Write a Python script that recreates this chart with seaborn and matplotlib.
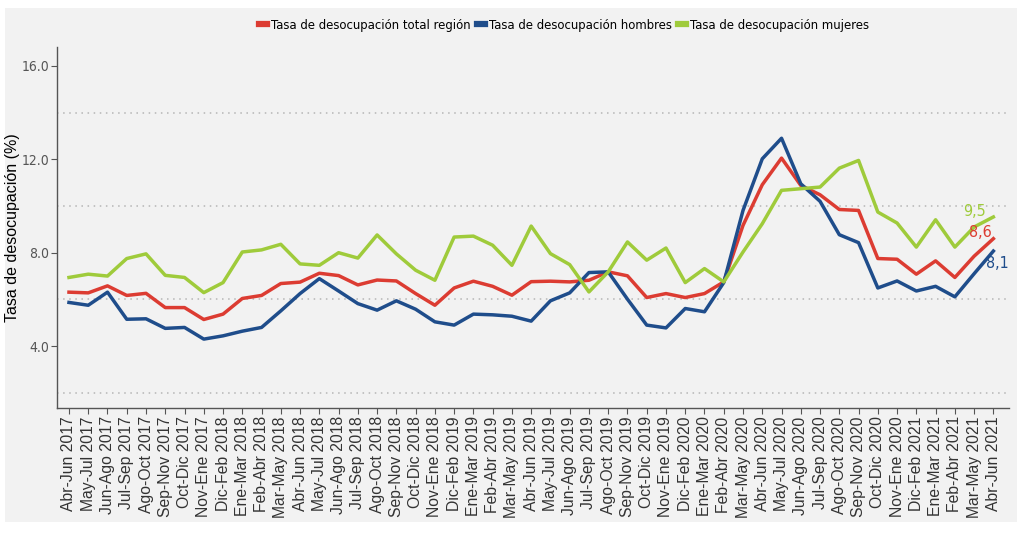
import numpy as np
import pandas as pd
import seaborn as sns
import matplotlib.pyplot as plt
from matplotlib.patches import Rectangle
from matplotlib.lines import Line2D
from matplotlib import font_manager

periodos = [
    'Abr-Jun 2017', 'May-Jul 2017', 'Jun-Ago 2017', 'Jul-Sep 2017', 'Ago-Oct 2017',
    'Sep-Nov 2017', 'Oct-Dic 2017', 'Nov-Ene 2017', 'Dic-Feb 2018', 'Ene-Mar 2018',
    'Feb-Abr 2018', 'Mar-May 2018', 'Abr-Jun 2018', 'May-Jul 2018', 'Jun-Ago 2018',
    'Jul-Sep 2018', 'Ago-Oct 2018', 'Sep-Nov 2018', 'Oct-Dic 2018', 'Nov-Ene 2018',
    'Dic-Feb 2019', 'Ene-Mar 2019', 'Feb-Abr 2019', 'Mar-May 2019', 'Abr-Jun 2019',
    'May-Jul 2019', 'Jun-Ago 2019', 'Jul-Sep 2019', 'Ago-Oct 2019', 'Sep-Nov 2019',
    'Oct-Dic 2019', 'Nov-Ene 2019', 'Dic-Feb 2020', 'Ene-Mar 2020', 'Feb-Abr 2020',
    'Mar-May 2020', 'Abr-Jun 2020', 'May-Jul 2020', 'Jun-Ago 2020', 'Jul-Sep 2020',
    'Ago-Oct 2020', 'Sep-Nov 2020', 'Oct-Dic 2020', 'Nov-Ene 2020', 'Dic-Feb 2021',
    'Ene-Mar 2021', 'Feb-Abr 2021', 'Mar-May 2021', 'Abr-Jun 2021',
]

total = [6.31, 6.28, 6.58, 6.17, 6.26, 5.65, 5.65, 5.14, 5.37, 6.04,
         6.17, 6.68, 6.74, 7.12, 7.02, 6.62, 6.83, 6.79, 6.25, 5.75,
         6.49, 6.78, 6.56, 6.18, 6.76, 6.78, 6.75, 6.82, 7.18, 7.01,
         6.08, 6.25, 6.08, 6.25, 6.75, 9.17, 10.91, 12.05, 10.88, 10.48,
         9.85, 9.81, 7.75, 7.72, 7.08, 7.65, 6.94, 7.85, 8.60]

hombres = [5.87, 5.75, 6.31, 5.15, 5.17, 4.76, 4.80, 4.30, 4.44, 4.64,
           4.80, 5.51, 6.25, 6.89, 6.36, 5.82, 5.54, 5.94, 5.58, 5.04,
           4.90, 5.37, 5.34, 5.28, 5.07, 5.94, 6.28, 7.15, 7.18, 6.01,
           4.90, 4.78, 5.61, 5.47, 6.72, 9.81, 12.02, 12.90, 10.95, 10.20,
           8.77, 8.43, 6.49, 6.79, 6.36, 6.56, 6.11, 7.10, 8.07]

mujeres = [6.94, 7.08, 7.00, 7.75, 7.95, 7.03, 6.94, 6.29, 6.72, 8.03,
           8.12, 8.36, 7.52, 7.46, 8.00, 7.77, 8.76, 7.95, 7.25, 6.82,
           8.67, 8.71, 8.32, 7.46, 9.14, 7.96, 7.49, 6.32, 7.18, 8.46,
           7.68, 8.20, 6.72, 7.32, 6.75, 8.03, 9.24, 10.67, 10.74, 10.81,
           11.62, 11.95, 9.74, 9.27, 8.24, 9.41, 8.24, 9.10, 9.53]

series = ['Tasa de desocupación total región',
          'Tasa de desocupación hombres',
          'Tasa de desocupación mujeres']
colores = ['#dc3c32', '#1f4d8b', '#9fcb3b']
etiquetas_finales = ['8,6', '8,1', '9,5']

fondo = '#f2f2f2'

df = pd.DataFrame({'x': list(range(len(periodos))) * 3,
                   'valor': total + hombres + mujeres,
                   'serie': np.repeat(series, len(periodos))})

plt.rcParams['font.family'] = ['Liberation Sans', 'DejaVu Sans']

# fuente angosta si existe (leyenda y eje y)
angosta = None
for f in font_manager.fontManager.ttflist:
    if 'Narrow' in f.name or 'Condensed' in f.fname:
        if 'Bold' not in f.fname and 'Oblique' not in f.fname and 'Italic' not in f.fname:
            angosta = f.fname
            break
if angosta:
    def fp(size):
        return font_manager.FontProperties(fname=angosta, size=size)
    tam_ley, tam_y, tam_fin = 9.4, 10, 11.5
else:
    def fp(size):
        return font_manager.FontProperties(family='Liberation Sans', size=size)
    tam_ley, tam_y, tam_fin = 9.0, 9.5, 11

fig = plt.figure(figsize=(10.24, 5.33), dpi=100, facecolor='white')
fig.patches.append(Rectangle((0.005, 0.02), 0.988, 0.965, transform=fig.transFigure,
                             facecolor=fondo, edgecolor='none', zorder=-10))
ax = fig.add_axes([0.0557, 0.2345, 0.93, 0.677])
ax.set_facecolor(fondo)

for y in [2, 6, 10, 14]:
    ax.axhline(y=y, color='#b5b5b5', linestyle=(0, (1, 3)), linewidth=1.1, zorder=0)

sns.lineplot(data=df, x='x', y='valor', hue='serie', hue_order=series,
             palette=colores, linewidth=2.5, legend=False, ax=ax, zorder=3)

ax.set_xlim(-0.62, 48.83)
ax.set_ylim(1.35, 16.8)
ax.set_yticks([4, 8, 12, 16])
ax.set_yticklabels(['4.0', '8.0', '12.0', '16.0'])
ax.set_xticks(range(len(periodos)))
ax.set_xticklabels(periodos, rotation=90)
ax.tick_params(axis='y', colors='#555555', length=4, width=0.8, pad=1.5)
ax.tick_params(axis='x', labelsize=11.3, colors='#555555', labelcolor='#333333',
               length=4, width=0.8, pad=2)
for lab in ax.get_yticklabels():
    lab.set_fontproperties(fp(tam_y))
ax.set_xlabel('')
ax.set_ylabel('Tasa de desocupación (%)', fontsize=11.5, color='black')
ax.yaxis.set_label_coords(-0.039, 0.5)

for s in ['top', 'right']:
    ax.spines[s].set_visible(False)
for s in ['left', 'bottom']:
    ax.spines[s].set_color('#555555')
    ax.spines[s].set_linewidth(1.0)

# etiquetas del ultimo valor
pos_etiquetas = [(47.35, 8.87), (48.2, 7.55), (47.0, 9.77)]
for (px, py), txt, c in zip(pos_etiquetas, etiquetas_finales, colores):
    ax.text(px, py, txt, color=c, ha='center', va='center',
            fontproperties=fp(tam_fin))

handles = [Line2D([0], [0], color=c, linewidth=4.5) for c in colores]
fig.legend(handles, series, loc='center', bbox_to_anchor=(0.551, 0.953),
           ncol=3, frameon=False, handlelength=0.6, handletextpad=0.3,
           columnspacing=0.5, prop=fp(tam_ley))

fig.savefig('out.png', dpi=100, facecolor='white')
